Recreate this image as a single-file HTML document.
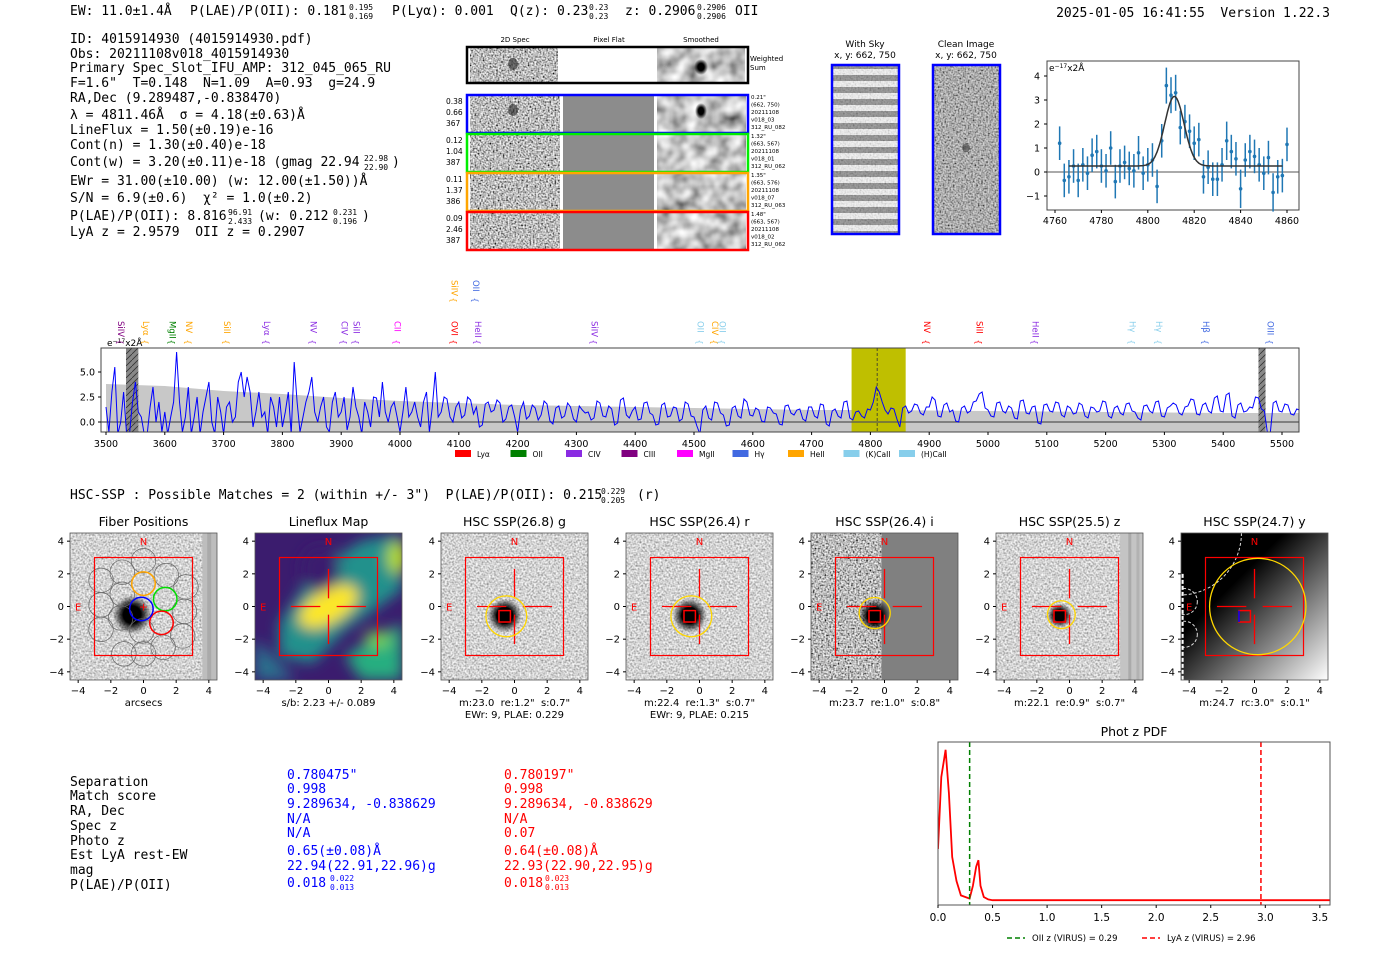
<!DOCTYPE html>
<html><head><meta charset="utf-8"><style>
html,body{margin:0;padding:0;background:#fff;}
svg{display:block;}
text{white-space:pre;}
.m{font-family:"DejaVu Sans Mono","Liberation Mono",monospace;}
.s{font-family:"DejaVu Sans","Liberation Sans",sans-serif;}
</style></head><body>
<svg id="root" width="1400" height="953" viewBox="0 0 1400 953" xmlns="http://www.w3.org/2000/svg" xml:space="preserve">
<defs>
<filter id="nz" x="0" y="0" width="100%" height="100%"><feTurbulence type="fractalNoise" baseFrequency="0.6" numOctaves="1" seed="3"/><feColorMatrix type="matrix" values="1.9 0 0 0 -0.45  1.9 0 0 0 -0.45  1.9 0 0 0 -0.45  0 0 0 0 1"/></filter>
<filter id="nzl" x="0" y="0" width="100%" height="100%"><feTurbulence type="fractalNoise" baseFrequency="0.55" numOctaves="1" seed="7"/><feColorMatrix type="matrix" values="1.3 0 0 0 0.0  1.3 0 0 0 0.0  1.3 0 0 0 0.0  0 0 0 0 1"/></filter>
<filter id="nzs" x="0" y="0" width="100%" height="100%"><feTurbulence type="fractalNoise" baseFrequency="0.07" numOctaves="2" seed="5"/><feColorMatrix type="matrix" values="1.3 0 0 0 -0.1  1.3 0 0 0 -0.1  1.3 0 0 0 -0.1  0 0 0 0 1"/></filter>
<filter id="blur6"><feGaussianBlur stdDeviation="7"/></filter>
<pattern id="sky" width="68" height="12" patternUnits="userSpaceOnUse"><rect width="68" height="12" fill="#f2f2f2"/><rect y="3" width="68" height="6" fill="#8a8a8a"/></pattern>
<pattern id="hatch" width="6" height="6" patternUnits="userSpaceOnUse"><rect width="6" height="6" fill="#888"/><path d="M0,6 L6,0" stroke="#333" stroke-width="0.8"/></pattern>
<linearGradient id="ygrad" x1="0" y1="0" x2="1" y2="1"><stop offset="0.35" stop-color="#000"/><stop offset="1" stop-color="#fff"/></linearGradient>
<radialGradient id="blob"><stop offset="0.45" stop-color="#000"/><stop offset="1" stop-color="#000" stop-opacity="0"/></radialGradient>
</defs>

<g class="m" font-size="13" fill="#000">
<text x="70" y="15">EW: 11.0±1.4Å</text>
<text x="190" y="15">P(LAE)/P(OII): 0.181</text>
<text x="349" y="10" font-size="8">0.195</text><text x="349" y="19" font-size="8">0.169</text>
<text x="392" y="15">P(Lyα): 0.001</text>
<text x="510" y="15">Q(z): 0.23</text>
<text x="589" y="10" font-size="8">0.23</text><text x="589" y="19" font-size="8">0.23</text>
<text x="625" y="15">z: 0.2906</text>
<text x="697" y="10" font-size="8">0.2906</text><text x="697" y="19" font-size="8">0.2906</text>
<text x="735" y="15">OII</text>
</g>
<text class="m" x="1330" y="17" font-size="13" text-anchor="end">2025-01-05 16:41:55  Version 1.22.3</text>

<g class="m" font-size="13" fill="#000">
<text x="70" y="43">ID: 4015914930 (4015914930.pdf)</text>
<text x="70" y="58">Obs: 20211108v018_4015914930</text>
<text x="70" y="72">Primary Spec_Slot_IFU_AMP: 312_045_065_RU</text>
<text x="70" y="87">F=1.6"  T=0.148  N=1.09  A=0.93  g=24.9</text>
<text x="70" y="102">RA,Dec (9.289487,-0.838470)</text>
<text x="70" y="119">λ = 4811.46Å  σ = 4.18(±0.63)Å</text>
<text x="70" y="134">LineFlux = 1.50(±0.19)e-16</text>
<text x="70" y="149">Cont(n) = 1.30(±0.40)e-18</text>
<text x="70" y="166">Cont(w) = 3.20(±0.11)e-18 (gmag 22.94</text>
<text x="364" y="161" font-size="8">22.98</text><text x="364" y="170" font-size="8">22.90</text><text x="392" y="166">)</text>
<text x="70" y="185">EWr = 31.00(±10.00) (w: 12.00(±1.50))Å</text>
<text x="70" y="202">S/N = 6.9(±0.6)  χ² = 1.0(±0.2)</text>
<text x="70" y="220">P(LAE)/P(OII): 8.816</text>
<text x="228" y="215" font-size="8">96.91</text><text x="228" y="224" font-size="8">2.433</text>
<text x="258" y="220">(w: 0.212</text>
<text x="333" y="215" font-size="8">0.231</text><text x="333" y="224" font-size="8">0.196</text><text x="362" y="220">)</text>
<text x="70" y="236">LyA z = 2.9579  OII z = 0.2907</text>
</g>

<g id="spec2d">
<g class="s" font-size="7" text-anchor="middle"><text x="515" y="42">2D Spec</text><text x="609" y="42">Pixel Flat</text><text x="701" y="42">Smoothed</text></g>
<rect x="470" y="48" width="88" height="34" filter="url(#nz)"/>
<rect x="558" y="48" width="99" height="34" fill="#fff"/>
<rect x="657" y="48" width="88" height="34" filter="url(#nzs)"/>
<ellipse cx="513" cy="64" rx="5" ry="6" fill="#222" opacity="0.6"/>
<ellipse cx="701" cy="67" rx="7" ry="8" fill="url(#blob)"/>
<rect x="467" y="47" width="281" height="36" fill="none" stroke="#000" stroke-width="2.5"/>
<text class="s" x="750" y="61" font-size="7">Weighted</text><text class="s" x="750" y="70" font-size="7">Sum</text>
</g>

<g>
<text class="s" x="865" y="47" font-size="9" text-anchor="middle">With Sky</text>
<text class="s" x="865" y="58" font-size="9" text-anchor="middle">x, y: 662, 750</text>
<rect x="832" y="65" width="67" height="169" fill="url(#sky)"/>
<rect x="832" y="65" width="67" height="169" filter="url(#nz)" opacity="0.2"/>
<rect x="832" y="65" width="67" height="169" fill="none" stroke="#00f" stroke-width="2.5"/>
</g>
<g>
<text class="s" x="966" y="47" font-size="9" text-anchor="middle">Clean Image</text>
<text class="s" x="966" y="58" font-size="9" text-anchor="middle">x, y: 662, 750</text>
<rect x="933" y="65" width="67" height="169" filter="url(#nz)"/>
<rect x="933" y="65" width="67" height="169" fill="#888" opacity="0.3"/>
<ellipse cx="966" cy="148" rx="4" ry="4" fill="#222" opacity="0.5"/>
<rect x="933" y="65" width="67" height="169" fill="none" stroke="#00f" stroke-width="2.5"/>
</g>

<g id="gauss"></g>
<g id="spec"></g>

<text class="m" x="70" y="499" font-size="13">HSC-SSP : Possible Matches = 2 (within +/- 3")  P(LAE)/P(OII): 0.215</text>
<text class="m" x="601" y="494" font-size="8">0.229</text><text class="m" x="601" y="503" font-size="8">0.205</text>
<text class="m" x="637" y="499" font-size="13">(r)</text>

<g id="cutouts"></g>

<g class="m" font-size="13">
<g>
<text x="70" y="786">Separation</text><text x="70" y="800">Match score</text><text x="70" y="815">RA, Dec</text><text x="70" y="830">Spec z</text><text x="70" y="845">Photo z</text><text x="70" y="859">Est LyA rest-EW</text><text x="70" y="874">mag</text><text x="70" y="889">P(LAE)/P(OII)</text>
</g>
<g fill="#0000ff">
<text x="287" y="779">0.780475"</text><text x="287" y="793">0.998</text><text x="287" y="808">9.289634, -0.838629</text><text x="287" y="823">N/A</text><text x="287" y="837">N/A</text><text x="287" y="855">0.65(±0.08)Å</text><text x="287" y="870">22.94(22.91,22.96)g</text><text x="287" y="887">0.018</text><text x="330" y="881" font-size="8">0.022</text><text x="330" y="890" font-size="8">0.013</text>
</g>
<g fill="#ff0000">
<text x="504" y="779">0.780197"</text><text x="504" y="793">0.998</text><text x="504" y="808">9.289634, -0.838629</text><text x="504" y="823">N/A</text><text x="504" y="837">0.07</text><text x="504" y="855">0.64(±0.08)Å</text><text x="504" y="870">22.93(22.90,22.95)g</text><text x="504" y="887">0.018</text><text x="545" y="881" font-size="8">0.023</text><text x="545" y="890" font-size="8">0.013</text>
</g>
</g>

<g id="pdf"></g>
</svg>

<script>
var NS="http://www.w3.org/2000/svg";
function mk(p,tag,a,txt){var e=document.createElementNS(NS,tag);for(var k in a)e.setAttribute(k,a[k]);if(txt!==undefined)e.textContent=txt;p.appendChild(e);return e;}

var fitWave=[4762,4764,4766,4768,4770,4772,4774,4776,4778,4780,4782,4784,4786,4788,4790,4792,4794,4796,4798,4800,4802,4804,4806,4808,4810,4812,4814,4816,4818,4820,4822,4824,4826,4828,4830,4832,4834,4836,4838,4840,4842,4844,4846,4848,4850,4852,4854,4856,4858,4860];
var fitFlux=[1.2,-0.35,-0.2,0.25,-0.35,0.3,-0.05,0.7,0.85,0.25,0.05,1.0,-0.4,0.25,0.4,0.15,0.05,0.8,-0.05,0.3,0.5,-0.6,1.3,3.6,3.2,3.3,1.85,2.1,1.7,1.2,1.35,-0.2,0.2,-0.3,-0.3,0.3,1.3,0.85,0.55,-0.7,0.5,0.85,0.65,0.3,-0.05,0.6,-0.85,-0.2,-0.15,1.15];
var fitErr=[0.7,0.7,0.7,0.7,0.7,0.7,0.7,0.7,0.7,0.7,0.7,0.7,0.7,0.7,0.7,0.7,0.7,0.7,0.7,0.7,0.7,0.7,0.7,0.75,0.75,0.75,0.7,0.7,0.7,0.7,0.7,0.7,0.7,0.7,0.7,0.7,0.8,0.7,0.7,0.8,0.7,0.7,0.7,0.7,0.7,0.7,0.8,0.7,0.7,0.7];
var fitParams=[4811.46,4.18,2.9,0.25];
var gaussXTicks=[4760,4780,4800,4820,4840,4860];
var gaussYTicks=[-1,0,1,2,3,4];

var specStart=3500, specStep=5;
var specFlux=[1.5,-1,3,5.5,-1.2,0,3,-1.2,-1.2,2,4,1,0.5,-1.2,-1.2,1.5,3.5,0,2,-1,
1,-1.2,0.5,2,7,2,-1,0.5,3.5,-1.2,0.5,2.5,-1.2,1,2.5,4,0,-1.2,2.5,1,
-1.2,1.5,2,0,0.5,4,5,2.5,4.5,3,-0.5,1,3,0.5,1,-1.2,2.5,1.5,-0.5,2.5,
-0.5,1,3,-1.2,6,2,-1,0.5,2,3,4.5,1,0,1.5,2.5,-0.5,-1,2,3,0.5,
1,2.5,-0.8,0.5,3.5,1.5,0.5,-1.2,2,1,-0.5,2.5,2.4,0.5,4,1,0,1.5,2,0.5,
-1,1,3.5,0.5,1,2,0.5,-0.5,2,3,-1,1.5,5,0.5,1,2.5,2.3,0.5,0,1.5,
2,0.4,0.7,2.5,2.2,0.8,1.5,-0.5,-0.3,1.8,2,1,1.2,2.2,1.9,0,0.3,1.5,1.7,0.5,
-1,1.2,2,0.3,0.6,1.7,1.4,0.2,0.7,2.1,1.8,0.1,-0.2,1.4,1.6,0.4,0.6,1.9,1.5,0.3,
0,1.6,1.2,0.9,1,0.2,0.4,2.1,1.9,0.6,0.5,1.6,1.3,-0.3,-0.1,2.2,2.4,0.7,0.4,1.1,
1.5,0.2,0.3,1.9,2,0.9,0.7,-0.3,-0.2,1.7,1.9,0.5,0.6,1.5,1.4,0.1,0.3,2,1.8,0.6,
0.5,-0.4,-1.2,1.2,1.6,0.4,0.2,2,1.9,0.9,0.7,-0.4,-0.3,1.4,1.6,0.6,0.4,2.3,2,0.7,
0.6,1.4,1.2,0.1,0,1.5,1.4,0.9,0.8,-0.2,-0.3,1.6,1.7,0.9,0.7,1.2,1.3,0.3,0.1,1.5,
1.5,0.6,0.4,1.8,1.7,-0.2,-0.4,1.1,1.3,0.6,0.4,2,2.1,0.4,0.2,1,1.1,0.6,0.4,1.3,
1.2,2,3.5,3,2,1.2,0.8,1.4,1.3,0.3,-0.5,1.4,1.6,0.9,1.1,1.8,1.7,0.9,0.7,1.5,
1.5,2.5,2.2,0.6,0.5,1.7,1.9,1,1.2,0.1,0,1.4,1.6,0.9,1.1,2,2.1,2.8,3,1.4,
1.2,0.6,0.5,1.9,2,1.1,0.9,1.6,1.4,0.4,0.3,2.1,2.2,0.9,0.8,1.5,1.6,-0.1,-0.2,1.7,
1.8,1.1,1,2,1.9,0.7,0.5,1.6,1.4,0.8,0.9,1.9,1.7,0.6,0.4,1.5,1.4,1,1.1,2.1,
2,0.6,0.4,1.4,1.6,0.9,0.7,1.8,1.9,1.1,1,0.4,0.2,1.6,1.7,1.1,0.9,2,2.1,0.6,
0.5,1.4,1.6,1.9,1.7,0.9,0.7,1.5,1.6,2.3,2.2,0.8,0.7,1.7,1.9,1.1,0.9,2.4,2.6,1.1,
1,2.7,2.9,0.6,0.4,1.7,1.9,1,1.1,1.5,1.4,2.5,2.4,1.3,1.1,-1,-1.2,1.9,2.1,1.1,
1,1.8,1.7,0.8,0.7,1.3,1.2];
var errWave=[3500,3600,3700,3800,3900,4000,4100,4200,4300,4400,4500,4600,4700,4800,4900,5000,5100,5200,5300,5400,5500,5530];
var errUpper=[3.8,3.6,3.1,2.8,2.4,2.1,1.9,1.7,1.6,1.5,1.4,1.3,1.2,1.2,1.15,1.1,1.05,1.0,0.95,0.9,0.9,0.9];
var specXTicks=[3500,3600,3700,3800,3900,4000,4100,4200,4300,4400,4500,4600,4700,4800,4900,5000,5100,5200,5300,5400,5500];
var specYTicks=[0.0,2.5,5.0];
var lineNames=["SiIV","Lyα","MgII","NV","SiII","Lyα","NV","CIV","SiII","CII","OVI","HeII","SiIV","OII","SiIV","OII","CIV","OII","NV","SiII","HeII","Hγ","Hγ","Hβ","OIII"];
var lineWaves=[3525,3567,3612,3640,3705,3773,3852,3905,3925,3995,4092,4132,4092,4128,4330,4510,4535,4548,4895,4985,5080,5245,5290,5370,5480];
var lineColors=["#800080","#ffa500","#008000","#ffa500","#ffa500","#8a2be2","#8a2be2","#8a2be2","#8a2be2","#ff00ff","#ff0000","#8a2be2","#ffa500","#4169e1","#8a2be2","#87ceeb","#ffa500","#87ceeb","#ff0000","#ff0000","#8a2be2","#87ceeb","#87ceeb","#4169e1","#4169e1"];
var lineHigh=[0,0,0,0,0,0,0,0,0,0,0,0,1,1,0,0,0,0,0,0,0,0,0,0,0];
var legNames=["Lyα","OII","CIV","CIII","MgII","Hγ","HeII","(K)CaII","(H)CaII"];
var legColors=["#ff0000","#008000","#8a2be2","#800080","#ff00ff","#4169e1","#ffa500","#87ceeb","#87ceeb"];

var pdfZ=[0,0.03,0.07,0.1,0.13,0.17,0.21,0.25,0.29,0.32,0.35,0.37,0.39,0.42,0.46,0.5,0.6,1,2,3,3.6];
var pdfP=[0.35,0.8,0.97,0.7,0.3,0.15,0.06,0.05,0.04,0.12,0.24,0.28,0.12,0.05,0.035,0.03,0.03,0.03,0.03,0.03,0.03];
var pdfXTicks=[0.0,0.5,1.0,1.5,2.0,2.5,3.0,3.5];
var zOII=0.29, zLyA=2.96;

(function(){
 var g=document.getElementById('spec2d');
 var rowCols=["#0000ff","#00ee00","#ffa500","#ff0000"];
 var rowNums=[["0.38","0.66","367"],["0.12","1.04","387"],["0.11","1.37","386"],["0.09","2.46","387"]];
 var rowInfo=[["0.21\"","(662, 750)","20211108","v018_03","312_RU_082"],["1.32\"","(663, 567)","20211108","v018_01","312_RU_062"],["1.35\"","(663, 576)","20211108","v018_07","312_RU_063"],["1.48\"","(663, 567)","20211108","v018_02","312_RU_062"]];
 for(var i=0;i<4;i++){
  var y=96+i*39;
  var r=mk(g,'g',{});
  
  
  mk(r,'rect',{x:470,y:y,width:90,height:37,filter:'url(#nz)'});
  mk(r,'rect',{x:563,y:y,width:91,height:37,fill:'#8c8c8c'});
  mk(r,'rect',{x:657,y:y,width:89,height:37,filter:'url(#nzs)'});
  if(i==0){mk(r,'ellipse',{cx:513,cy:y+14,rx:5,ry:6,fill:'#222',opacity:0.6});mk(r,'ellipse',{cx:701,cy:y+15,rx:6,ry:8,fill:'url(#blob)'});}
  mk(r,'rect',{x:467,y:y-1,width:281,height:38,fill:'none',stroke:rowCols[i],'stroke-width':2.5});
  for(var k=0;k<3;k++) mk(r,'text',{x:446,y:y+8+k*11,'font-size':7.5,'class':'s'},rowNums[i][k]);
  for(k=0;k<5;k++) mk(r,'text',{x:751,y:y+3+k*7.5,'font-size':5.5,'class':'s'},rowInfo[i][k]);
 }
})();

(function(){
 var g=document.getElementById('gauss');
 var L=1047,R=1299,T=61,B=210;
 function X(w){return 1055+(w-4760)*2.32;}
 function Y(v){return 172-v*24;}
 mk(g,'rect',{x:L,y:T,width:R-L,height:B-T,fill:'#fff',stroke:'#444','stroke-width':1});
 mk(g,'line',{x1:L,x2:R,y1:Y(0),y2:Y(0),stroke:'#555','stroke-width':1});
 gaussXTicks.forEach(function(t){mk(g,'line',{x1:X(t),x2:X(t),y1:B,y2:B+3,stroke:'#000'});var e=mk(g,'text',{x:X(t),y:B+14,'font-size':9.5,'text-anchor':'middle','class':'s'},t);});
 gaussYTicks.forEach(function(t){mk(g,'line',{x1:L-3,x2:L,y1:Y(t),y2:Y(t),stroke:'#000'});var e=mk(g,'text',{x:L-7,y:Y(t)+3.5,'font-size':9.5,'text-anchor':'end','class':'s'},t<0?'−'+(-t):t);});
 var u=mk(g,'text',{x:L+2,y:T+10,'font-size':9,'class':'s'},'e');mk(u,'tspan',{'font-size':6,dy:-3},'−17');mk(u,'tspan',{dy:3},'x2Å');
 for(var i=0;i<fitWave.length;i++){
  var x=X(fitWave[i]);
  var eb=mk(g,'line',{x1:x,x2:x,y1:Y(fitFlux[i]+fitErr[i]),y2:Y(fitFlux[i]-fitErr[i]),stroke:'#1f77b4','stroke-width':1.5});
  
  var p=mk(g,'circle',{cx:x,cy:Y(fitFlux[i]),r:1.8,fill:'#1f77b4'});
  
 }
 var d='';
 for(var w=4766;w<=4858;w+=0.5){var v=fitParams[3]+fitParams[2]*Math.exp(-0.5*Math.pow((w-fitParams[0])/fitParams[1],2));d+=(d?'L':'M')+X(w).toFixed(1)+','+Y(v).toFixed(1);}
 var c=mk(g,'path',{d:d,fill:'none',stroke:'#333','stroke-width':1.5});
 
})();

(function(){
 var g=document.getElementById('spec');
 var L=101,R=1299,T=348,B=432;
 function X(w){return 106+(w-3500)*0.588;}
 function Y(v){return 422-v*10;}
 mk(g,'defs',{}).innerHTML='<clipPath id="spc"><rect x="101" y="348" width="1198" height="84"/></clipPath>';
 mk(g,'rect',{x:L,y:T,width:R-L,height:B-T,fill:'#fff'});
 var cg=mk(g,'g',{'clip-path':'url(#spc)'});
 var d='M'+X(errWave[0])+','+B;
 for(var i=0;i<errWave.length;i++) d+='L'+X(errWave[i]).toFixed(1)+','+Y(errUpper[i]).toFixed(1);
 d+='L'+X(errWave[errWave.length-1])+','+B+'Z';
 var band=mk(cg,'path',{d:d,fill:'#c8c8c8'});
 
 var hl=mk(cg,'rect',{x:X(4768),y:T,width:X(4860)-X(4768),height:B-T,fill:'#bfbf00'});
 
 mk(cg,'rect',{x:X(3534),y:T,width:X(3555)-X(3534),height:B-T,fill:'url(#hatch)'});
 mk(cg,'rect',{x:X(5460),y:T,width:X(5472)-X(5460),height:B-T,fill:'url(#hatch)'});
 mk(cg,'line',{x1:L,x2:R,y1:Y(0),y2:Y(0),stroke:'#555','stroke-width':1.2});
 var pd='';
 for(i=0;i<specFlux.length;i++) pd+=(i?'L':'M')+X(specStart+i*specStep).toFixed(1)+','+Y(specFlux[i]).toFixed(1);
 var ln=mk(cg,'path',{d:pd,fill:'none',stroke:'#0000ff','stroke-width':1});
 
 mk(cg,'line',{x1:X(4811.5),x2:X(4811.5),y1:T,y2:B,stroke:'#333','stroke-dasharray':'3,2','stroke-width':0.8});
 mk(g,'rect',{x:L,y:T,width:R-L,height:B-T,fill:'none',stroke:'#444'});
 specXTicks.forEach(function(t){mk(g,'line',{x1:X(t),x2:X(t),y1:B,y2:B+3,stroke:'#000'});var e=mk(g,'text',{x:X(t),y:B+15,'font-size':9.5,'text-anchor':'middle','class':'s'},t);});
 specYTicks.forEach(function(t){mk(g,'line',{x1:L-3,x2:L,y1:Y(t),y2:Y(t),stroke:'#000'});var e=mk(g,'text',{x:L-6,y:Y(t)+3.5,'font-size':9.5,'text-anchor':'end','class':'s'},t.toFixed(1));});
 var u=mk(g,'text',{x:107,y:346,'font-size':9,'class':'s'},'e');mk(u,'tspan',{'font-size':6,dy:-3},'−17');mk(u,'tspan',{dy:3},'x2Å');
 for(i=0;i<lineNames.length;i++){
  var x=X(lineWaves[i]), y0=lineHigh[i]?280:321;
  var t=mk(g,'text',{x:x,y:y0,'font-size':8.5,fill:lineColors[i],'class':'s',transform:'rotate(90 '+x+' '+y0+')','dominant-baseline':'middle'},lineNames[i]);
  
  mk(g,'text',{x:x,y:(lineHigh[i]?303:345),'font-size':8,fill:lineColors[i],'text-anchor':'middle','class':'s',transform:'rotate(90 '+x+' '+(lineHigh[i]?300:342)+')'},'{');
 }
 for(i=0;i<legNames.length;i++){
  var lx=455+i*55.5;
  var lg=mk(g,'g',{});
  
  mk(lg,'rect',{x:lx,y:450,width:16,height:7,fill:legColors[i]});
  mk(lg,'text',{x:lx+22,y:457,'font-size':7.5,'class':'s'},legNames[i]);
 }
})();

(function(){
 var root=document.getElementById('cutouts');
 var lefts=[70,255,441,626,811,996,1181], T=533, S=147, u=S/9;
 var titles=["Fiber Positions","Lineflux Map","HSC SSP(26.8) g","HSC SSP(26.4) r","HSC SSP(26.4) i","HSC SSP(25.5) z","HSC SSP(24.7) y"];
 var sub1=["arcsecs","s/b: 2.23 +/- 0.089","m:23.0  re:1.2\"  s:0.7\"","m:22.4  re:1.3\"  s:0.7\"","m:23.7  re:1.0\"  s:0.8\"","m:22.1  re:0.9\"  s:0.7\"","m:24.7  rc:3.0\"  s:0.1\""];
 var sub2=["","","EWr: 9, PLAE: 0.229","EWr: 9, PLAE: 0.215","","",""];
 var circ=[null,null,[-0.5,-0.6,1.25],[-0.5,-0.6,1.25],[-0.6,-0.4,0.95],[-0.5,-0.5,0.85],[0.2,0,2.95]];
 var ticks=[-4,-2,0,2,4];
 function pts(a){var s=[];for(var i=0;i<a.length;i+=2)s.push(a[i]+','+a[i+1]);return s.join(' ');}
 for(var p=0;p<7;p++){
  var L=lefts[p], cx=L+S/2, cy=T+S/2;
  var X=function(a){return cx+a*u;}, Y=function(b){return cy-b*u;};
  var g=mk(root,'g',{});
  
  
  mk(g,'defs',{}).innerHTML='<clipPath id="cc'+p+'"><rect x="'+L+'" y="'+T+'" width="'+S+'" height="'+S+'"/></clipPath>';
  var im=mk(g,'g',{'clip-path':'url(#cc'+p+')'});
  if(p==0){
   mk(im,'rect',{x:L,y:T,width:S,height:S,filter:'url(#nzl)'});
   mk(im,'rect',{x:X(3.6),y:T,width:S,height:S,fill:'#bdbdbd'});
   mk(im,'rect',{x:X(3.9),y:T,width:4,height:S,fill:'#aaa'});
   mk(im,'circle',{cx:X(-0.7),cy:Y(-0.5),r:u*1.2,fill:'url(#blob)'});
   var hex=[[-1.3,0.75],[-1.4,-0.7],[-0.1,-1.5],[-1.3,2.1],[0,2.8],[1.4,1.9],[2.6,1.2],[2.5,-0.3],[2.4,-1.8],[1.2,-2.5],[-1.2,-2.9],[-2.6,-1.4],[-2.6,0.1],[-2.6,1.6],[0,-2.9]];
   hex.forEach(function(h){mk(im,'ellipse',{cx:X(h[0]),cy:Y(h[1]),rx:u*0.75,ry:u*0.75,fill:'none',stroke:'#666','stroke-width':0.7});});
   mk(im,'circle',{cx:X(0),cy:Y(1.4),r:u*0.72,fill:'none',stroke:'#ffa500','stroke-width':1.5});
   mk(im,'circle',{cx:X(1.33),cy:Y(0.45),r:u*0.72,fill:'none',stroke:'#00dd00','stroke-width':1.5});
   mk(im,'circle',{cx:X(1.1),cy:Y(-1.0),r:u*0.72,fill:'none',stroke:'#ff0000','stroke-width':1.5});
   mk(im,'circle',{cx:X(-0.13),cy:Y(-0.15),r:u*0.72,fill:'none',stroke:'#0000ff','stroke-width':1.5});
  } else if(p==1){
   mk(im,'rect',{x:L,y:T,width:S,height:S,fill:'#3b1c6e'});
   var gg=mk(im,'g',{filter:'url(#blur6)'});
   mk(gg,'polygon',{points:pts([X(-3),Y(-1),X(-1),Y(2),X(2),Y(4),X(4.5),Y(4.5),X(4.5),Y(1),X(1),Y(-1.5),X(-1),Y(-3.5),X(-3),Y(-3)]),fill:'#21918c'});
   mk(gg,'polygon',{points:pts([X(-4.5),Y(-4.5),X(-2),Y(-4.5),X(-4.5),Y(-2)]),fill:'#2c728e'});
   mk(gg,'polygon',{points:pts([X(1),Y(-3),X(4.5),Y(-1),X(4.5),Y(-4.5),X(2),Y(-4.5)]),fill:'#28ae80'});
   mk(gg,'ellipse',{cx:X(0),cy:Y(0),rx:u*2.0,ry:u*1.0,fill:'#fde725',transform:'rotate(-30 '+X(0)+' '+Y(0)+')'});
   mk(gg,'ellipse',{cx:X(4.2),cy:Y(3),rx:u*0.6,ry:u*1,fill:'#b5de2b'});
   mk(gg,'ellipse',{cx:X(3),cy:Y(-2),rx:u*0.8,ry:u*0.5,fill:'#7ad151'});
   mk(gg,'ellipse',{cx:X(-0.5),cy:Y(2.3),rx:u*1.2,ry:u*1.4,fill:'#3b1c6e'});
  } else if(p==6){
   mk(im,'rect',{x:L,y:T,width:S,height:S,fill:'url(#ygrad)'});
   [[-4.6,4.5,3.8],[-4.3,0.3,0.8],[-4.3,-1.7,0.8]].forEach(function(c){mk(im,'circle',{cx:X(c[0]),cy:Y(c[1]),r:u*c[2],fill:'none',stroke:'#ddd','stroke-dasharray':'3,2'});});
   mk(im,'line',{x1:X(-4.4),x2:X(-4.4),y1:Y(2),y2:Y(-4.5),stroke:'#fff','stroke-dasharray':'4,2','stroke-width':2});
  } else {
   if(p==4){mk(im,'rect',{x:L,y:T,width:S,height:S,fill:'#808080'});mk(im,'rect',{x:L,y:T,width:X(-0.2)-L,height:S,filter:'url(#nz)'});}
   else {mk(im,'rect',{x:L,y:T,width:S,height:S,filter:'url(#nzl)'});}
   if(p==5){mk(im,'rect',{x:X(3.1),y:T,width:S,height:S,fill:'#c4c4c4'});mk(im,'rect',{x:X(3.6),y:T,width:3,height:S,fill:'#aaa'});mk(im,'rect',{x:X(4.1),y:T,width:3,height:S,fill:'#b2b2b2'});}
   var br=(p==5)?0.75:(p==4?1.0:1.05);
   mk(im,'circle',{cx:X(-0.6),cy:Y(-0.55),r:u*br,fill:'url(#blob)'});
   mk(im,'circle',{cx:X(-0.6),cy:Y(-0.55),r:u*br*0.5,fill:'#000'});
  }
  mk(im,'rect',{x:X(-3),y:Y(3),width:6*u,height:6*u,fill:'none',stroke:'#ff0000','stroke-width':1.2});
  if(p>=1){
   [[-2.3,0,-0.5,0],[0.5,0,2.3,0],[0,2.3,0,0.5],[0,-0.5,0,-2.3]].forEach(function(s){mk(im,'line',{x1:X(s[0]),y1:Y(s[1]),x2:X(s[2]),y2:Y(s[3]),stroke:'#ff0000','stroke-width':1.3});});
  } else {
   mk(im,'text',{x:X(0),y:Y(0)+4,'font-size':11,fill:'#ff0000','text-anchor':'middle','class':'s'},'+');
  }
  if(circ[p]){var c=circ[p];mk(im,'ellipse',{cx:X(c[0]),cy:Y(c[1]),rx:u*c[2],ry:u*c[2],fill:'none',stroke:'#ffd700','stroke-width':1.3});}
  if(p>=2){var sq=[-0.6,-0.6,0.7];mk(im,'rect',{x:X(sq[0]-sq[2]/2),y:Y(sq[1]+sq[2]/2),width:sq[2]*u,height:sq[2]*u,fill:'none',stroke:'#ff0000','stroke-width':1.5});}
  if(p==6) mk(im,'line',{x1:X(-0.95),x2:X(-0.95),y1:Y(-0.25),y2:Y(-0.95),stroke:'#00f','stroke-width':1.5});
  mk(im,'text',{x:X(0),y:Y(4)+4,'font-size':10,fill:'#ff0000','text-anchor':'middle','class':'s'},'N');
  mk(im,'text',{x:X(-4),y:Y(0)+4,'font-size':10,fill:'#ff0000','text-anchor':'middle','class':'s'},'E');
  mk(g,'rect',{x:L,y:T,width:S,height:S,fill:'none',stroke:'#555','stroke-width':0.8});
  var tt=mk(g,'text',{x:cx,y:T-7,'font-size':12.5,'text-anchor':'middle','class':'s'},titles[p]);
  
  ticks.forEach(function(t){
   mk(g,'line',{x1:X(t),x2:X(t),y1:T+S,y2:T+S+3,stroke:'#000'});
   mk(g,'text',{x:X(t),y:T+S+14,'font-size':10,'text-anchor':'middle','class':'s'},t<0?'−'+(-t):t);
   mk(g,'line',{x1:L-3,x2:L,y1:Y(t),y2:Y(t),stroke:'#000'});
   mk(g,'text',{x:L-6,y:Y(t)+3.5,'font-size':10,'text-anchor':'end','class':'s'},t<0?'−'+(-t):t);
  });
  mk(g,'text',{x:cx,y:T+S+26,'font-size':10,'text-anchor':'middle','class':'s'},sub1[p]);
  if(sub2[p]) mk(g,'text',{x:cx,y:T+S+38,'font-size':10,'text-anchor':'middle','class':'s'},sub2[p]);
 }
})();

(function(){
 var g=document.getElementById('pdf');
 var L=938,R=1330,T=742,B=905;
 function X(z){return 938+z*109.1;}
 function Y(p){return B-p*160;}
 mk(g,'text',{x:(L+R)/2,y:T-6,'font-size':12.5,'text-anchor':'middle','class':'s'},'Phot z PDF');
 mk(g,'defs',{}).innerHTML='<clipPath id="pdc"><rect x="938" y="742" width="392" height="163"/></clipPath>';
 var cg=mk(g,'g',{'clip-path':'url(#pdc)'});
 var d='';
 for(var i=0;i<pdfZ.length;i++) d+=(i?'L':'M')+X(pdfZ[i]).toFixed(1)+','+Y(pdfP[i]).toFixed(1);
 var c=mk(cg,'path',{d:d,fill:'none',stroke:'#ff0000','stroke-width':1.8});
 
 var v1=mk(cg,'line',{x1:X(zOII),x2:X(zOII),y1:T,y2:B,stroke:'#008000','stroke-width':1.5,'stroke-dasharray':'5,3'});
 
 var v2=mk(cg,'line',{x1:X(zLyA),x2:X(zLyA),y1:T,y2:B,stroke:'#ff0000','stroke-width':1.5,'stroke-dasharray':'5,3'});
 
 mk(g,'rect',{x:L,y:T,width:R-L,height:B-T,fill:'none',stroke:'#555'});
 pdfXTicks.forEach(function(t){mk(g,'line',{x1:X(t),x2:X(t),y1:B,y2:B+3,stroke:'#000'});var e=mk(g,'text',{x:X(t),y:B+16,'font-size':10.5,'text-anchor':'middle','class':'s'},t.toFixed(1));});
 var lg=mk(g,'g',{});
 
 mk(lg,'line',{x1:1007,x2:1025,y1:938,y2:938,stroke:'#008000','stroke-width':1.5,'stroke-dasharray':'5,3'});
 mk(lg,'text',{x:1032,y:941,'font-size':8.5,'class':'s'},'OII z (VIRUS) = 0.29');
 mk(lg,'line',{x1:1142,x2:1160,y1:938,y2:938,stroke:'#ff0000','stroke-width':1.5,'stroke-dasharray':'5,3'});
 mk(lg,'text',{x:1167,y:941,'font-size':8.5,'class':'s'},'LyA z (VIRUS) = 2.96');
})();
</script>
</body></html>
